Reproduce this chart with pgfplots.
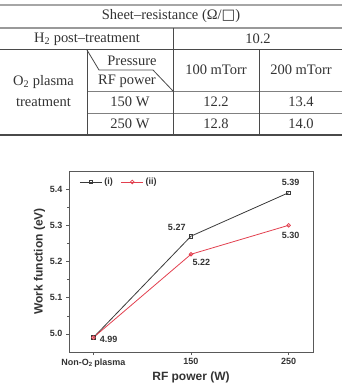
\documentclass[border=0pt]{standalone}
\usepackage{fontspec}
\setmainfont{Liberation Serif}
\setsansfont{Liberation Sans}
\newfontfamily\symfont{DejaVu Sans}
\usepackage{pgfplots}
\pgfplotsset{compat=1.18}

\definecolor{seriesA}{HTML}{3A3A3A}
\definecolor{seriesB}{HTML}{E2404F}
\definecolor{rulecol}{HTML}{4A4A4A}
\definecolor{textcol}{HTML}{333333}

\begin{document}
\begin{tikzpicture}
\useasboundingbox (0,0) rectangle (342pt,392pt);

% ---- sheet-resistance table ----
\begin{scope}[x=1pt,y=-1pt,shift={(0,392pt)},
  every node/.style={font=\fontsize{14.5}{16}\selectfont, text=textcol, inner sep=0pt}]
  \draw[line width=2pt, color=gray!70] (0,5) -- (342,5);
  \draw[line width=1.2pt, color=gray!80] (0,28) -- (342,28);
  \draw[line width=1.6pt, color=rulecol] (0,49.5) -- (342,49.5);
  \draw[line width=0.6pt, color=gray] (87,91) -- (342,91);
  \draw[line width=0.6pt, color=gray] (87,113) -- (342,113);
  \draw[line width=1.6pt, color=rulecol] (0,135) -- (342,135);
  \draw[line width=0.8pt, color=rulecol] (173,28) -- (173,135);
  \draw[line width=0.8pt, color=rulecol] (87,49.5) -- (87,135);
  \draw[line width=0.8pt, color=rulecol] (259,49.5) -- (259,135);
  \draw[line width=0.8pt, color=rulecol] (87,50) -- (99,70) -- (153,70) -- (173,91);

  \node at (171,16.5) {Sheet--resistance (Ω/{\symfont □})};
  \node at (87,39) {H\textsubscript{2} post--treatment};
  \node at (258,39) {10.2};
  \node at (43.5,82) {O\textsubscript{2} plasma};
  \node at (43.5,102) {treatment};
  \node at (132,61) {Pressure};
  \node at (127,81) {RF power};
  \node at (216,70) {100 mTorr};
  \node at (301,70) {200 mTorr};
  \node at (130,102) {150 W};
  \node at (216,102) {12.2};
  \node at (301,102) {13.4};
  \node at (130,124) {250 W};
  \node at (216,124) {12.8};
  \node at (301,124) {14.0};
\end{scope}

% ---- work function vs RF power ----
\begin{axis}[
  at={(69pt,40pt)}, anchor=south west,
  scale only axis, width=244pt, height=181pt,
  xmin=-0.25, xmax=2.25, ymin=4.95, ymax=5.45,
  xtick={0,1,2},
  xticklabels={Non-O\textsubscript{2}\,plasma,150,250},
  ytick={5.0,5.1,5.2,5.3,5.4},
  minor y tick num=1,
  tick pos=left, tick align=outside,
  major tick length=3pt, minor tick length=2pt,
  axis line style={color=black!65, line width=0.8pt},
  every tick/.style={color=black!65, line width=0.6pt},
  yticklabel style={/pgf/number format/fixed, /pgf/number format/fixed zerofill, /pgf/number format/precision=1},
  /pgf/number format/assume math mode=true,
  tick label style={font=\sffamily\bfseries\fontsize{9}{10}\selectfont, text=textcol},
  xlabel={RF power (W)},
  ylabel={Work function (eV)},
  label style={font=\sffamily\bfseries\fontsize{12}{14}\selectfont, text=textcol},
  xlabel style={yshift=2pt},
  ylabel style={yshift=-2pt},
  legend columns=2,
  legend style={draw=none, fill=none, at={(0.03,0.985)}, anchor=north west,
    font=\sffamily\bfseries\fontsize{9}{10}\selectfont, text=textcol,
    /tikz/every even column/.append style={column sep=6pt}},
  legend image code/.code={\draw[mark repeat=2, mark phase=2, #1]
    plot coordinates {(0pt,0pt) (11pt,0pt) (22pt,0pt)};},
]
\addplot[color=seriesA, line width=0.8pt, mark=square, mark size=1.8pt, mark options={fill=white}]
  coordinates {(0,4.99) (1,5.27) (2,5.39)};
\addlegendentry{(i)}
\addplot[color=seriesB, line width=0.8pt, mark=o, mark size=1.8pt, mark options={fill=white}]
  coordinates {(0,4.99) (1,5.22) (2,5.30)};
\addlegendentry{(ii)}

\begin{scope}[every node/.style={font=\sffamily\bfseries\fontsize{9}{10}\selectfont, text=textcol}]
  \node[anchor=south east] at (axis cs:0.98,5.275) {5.27};
  \node[anchor=north west] at (axis cs:0.98,5.215) {5.22};
  \node[anchor=south] at (axis cs:2.02,5.40) {5.39};
  \node[anchor=north] at (axis cs:2.02,5.29) {5.30};
  \node[anchor=west] at (axis cs:0.03,4.985) {4.99};
\end{scope}
\end{axis}
\end{tikzpicture}
\end{document}
